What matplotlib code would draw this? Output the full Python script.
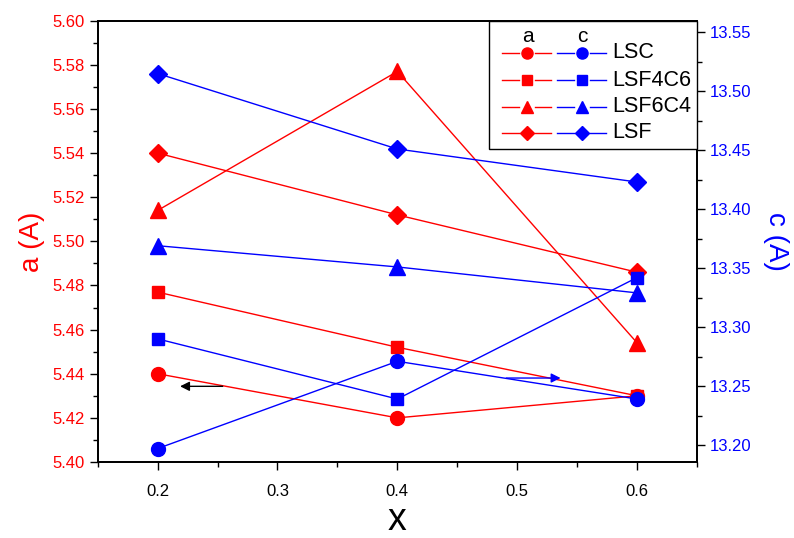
import matplotlib
matplotlib.use('Agg')
import matplotlib.pyplot as plt
from matplotlib.lines import Line2D
from matplotlib.patches import Rectangle
from matplotlib.ticker import MultipleLocator, FormatStrFormatter

plt.rcParams['font.family'] = ['Liberation Sans', 'DejaVu Sans']

# ---- data ----
x = [0.2, 0.4, 0.6]
samples = ['LSC', 'LSF4C6', 'LSF6C4', 'LSF']
markers = ['o', 's', '^', 'D']
msizes = [10, 9, 11, 9.5]

a_LSC = [5.440, 5.420, 5.430]
a_LSF4C6 = [5.477, 5.452, 5.430]
a_LSF6C4 = [5.514, 5.577, 5.454]
a_LSF = [5.540, 5.512, 5.486]

c_LSC = [13.197, 13.271, 13.239]
c_LSF4C6 = [13.290, 13.239, 13.342]
c_LSF6C4 = [13.369, 13.351, 13.329]
c_LSF = [13.515, 13.451, 13.423]

a_vals = [a_LSC, a_LSF4C6, a_LSF6C4, a_LSF]
c_vals = [c_LSC, c_LSF4C6, c_LSF6C4, c_LSF]

# arrows pointing to the axis each series belongs to
arrow_a = [(0.2566, 0.2164), 5.4343]
arrow_c = [(0.4886, 0.5385), 13.2568]

RED = '#ff0000'
BLUE = '#0000ff'

W, H = 794, 538
fig = plt.figure(figsize=(W / 100, H / 100), dpi=100)
ax = fig.add_axes([97.7 / W, 1 - 462 / H, (697 - 97.7) / W, (462 - 20.7) / H])
ax2 = ax.twinx()

# red first (LSC last so the circle sits over the square at 0.6)
for i in [1, 2, 3, 0]:
    ax.plot(x, a_vals[i], color=RED, lw=1, marker=markers[i], ms=msizes[i],
            mec=RED, mfc=RED)
for i in [1, 2, 3, 0]:
    ax2.plot(x, c_vals[i], color=BLUE, lw=1, marker=markers[i], ms=msizes[i],
             mec=BLUE, mfc=BLUE)

ax.annotate('', xy=(arrow_a[0][1], arrow_a[1]), xytext=(arrow_a[0][0], arrow_a[1]),
            arrowprops=dict(arrowstyle='-|>', color='k', lw=1, mutation_scale=14))
ax2.annotate('', xy=(arrow_c[0][1], arrow_c[1]), xytext=(arrow_c[0][0], arrow_c[1]),
             arrowprops=dict(arrowstyle='-|>', color=BLUE, lw=1, mutation_scale=14))

ax.set_xlim(0.15, 0.65)
ax.set_ylim(5.40, 5.60)
ax2.set_ylim(13.1856, 13.5598)

ax.xaxis.set_major_locator(MultipleLocator(0.1))
ax.xaxis.set_minor_locator(MultipleLocator(0.05))
ax.yaxis.set_major_locator(MultipleLocator(0.02))
ax.yaxis.set_minor_locator(MultipleLocator(0.01))
ax.yaxis.set_major_formatter(FormatStrFormatter('%.2f'))
ax2.yaxis.set_major_locator(MultipleLocator(0.05))
ax2.yaxis.set_minor_locator(MultipleLocator(0.025))
ax2.yaxis.set_major_formatter(FormatStrFormatter('%.2f'))

for a in (ax, ax2):
    a.tick_params(which='major', direction='out', length=6, width=1, labelsize=12)
    a.tick_params(which='minor', direction='out', length=3.5, width=1)
    for s in a.spines.values():
        s.set_linewidth(1.3)
ax.tick_params(axis='x', which='both', top=False)
ax.tick_params(axis='x', which='major', pad=10)
ax.tick_params(axis='y', which='both', right=False, labelcolor=RED)
ax2.tick_params(axis='y', which='both', labelcolor=BLUE)

ax.set_xlabel('x', fontsize=27, labelpad=2)
ax.set_ylabel('a (A)', fontsize=20, color=RED, labelpad=5)
ax2.set_ylabel('c (A)', fontsize=20, color=BLUE, labelpad=8, rotation=270, va='bottom')

# ---- hand built two-column legend in the top right corner ----
def fx(px):
    return px / W

def fy(py):
    return 1 - py / H

tf = fig.transFigure
box = Rectangle((fx(489), fy(149)), fx(697) - fx(489), fy(21) - fy(149),
                transform=tf, fill=True, fc='white', ec='black', lw=1, zorder=5)
fig.add_artist(box)
fig.text(fx(528), fy(36), 'a', transform=tf, fontsize=15, ha='center', va='center', zorder=6)
fig.text(fx(582), fy(36), 'c', transform=tf, fontsize=15, ha='center', va='center', zorder=6)
rows = [53, 80, 106.5, 133]
for i, name in enumerate(samples):
    yy = fy(rows[i])
    for col, x0, x1, xm in [(RED, 502, 551, 526.5), (BLUE, 557, 606, 582)]:
        fig.add_artist(Line2D([fx(x0), fx(xm - 8)], [yy, yy], color=col, lw=1, transform=tf, zorder=6))
        fig.add_artist(Line2D([fx(xm + 8), fx(x1)], [yy, yy], color=col, lw=1, transform=tf, zorder=6))
        fig.add_artist(Line2D([fx(xm)], [yy], color=col, marker=markers[i], ms=msizes[i] * 0.8,
                              transform=tf, zorder=7))
    fig.text(fx(612), yy, name, transform=tf, fontsize=15.5, ha='left', va='center', zorder=6)

fig.savefig('out.png', dpi=100)
